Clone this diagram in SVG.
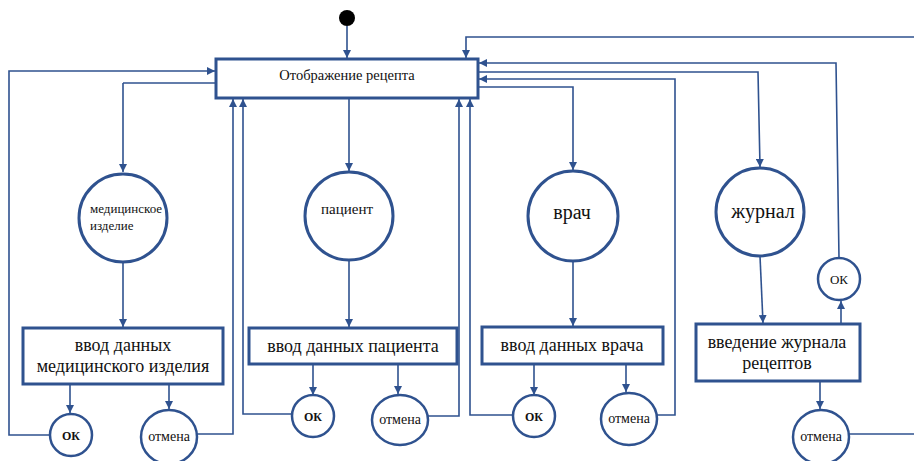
<svg xmlns="http://www.w3.org/2000/svg" width="914" height="461" viewBox="0 0 914 461">
<defs>
<marker id="arr" viewBox="0 0 10 10" refX="10" refY="5" markerWidth="8" markerHeight="8" markerUnits="userSpaceOnUse" orient="auto">
<path d="M0,0 L10,5 L0,10 Z" fill="#2F528F"/>
</marker>
<style>
.c{fill:none;stroke:#2F528F;stroke-width:1.6;marker-end:url(#arr)}
.n{fill:none;stroke:#2F528F;stroke-width:1.6}
.box{fill:#fff;stroke:#2F528F;stroke-width:3}
.big{fill:#fff;stroke:#2F528F;stroke-width:3}
.sm{fill:#fff;stroke:#2F528F;stroke-width:2.5}
.t{fill:#111}
.m{text-anchor:middle}
</style>
</defs>
<g id="connectors">
<path class="c" d="M347,26 V58"/>
<path class="n" d="M216,83 H123"/>
<path class="c" d="M123,83 V172"/>
<path class="c" d="M50,435 H9 V71 H215"/>
<path class="c" d="M123,262 V327"/>
<path class="c" d="M70,384 V413"/>
<path class="c" d="M169,384 V409"/>
<path class="c" d="M197,434 H233 V99"/>
<path class="c" d="M292,414 H243 V99"/>
<path class="c" d="M349,98 V171"/>
<path class="c" d="M349,260 V327"/>
<path class="c" d="M313,364 V395"/>
<path class="c" d="M398,364 V394"/>
<path class="c" d="M428,416 H459 V99"/>
<path class="c" d="M513,415 H470 V99"/>
<path class="c" d="M478,87 H573 V170"/>
<path class="c" d="M573,261 V326"/>
<path class="c" d="M534,364 V395"/>
<path class="c" d="M626,364 V392"/>
<path class="c" d="M657,415 H675 V79 H479"/>
<path class="c" d="M478,72 H758 L760,167"/>
<path class="c" d="M760,256 L763,323"/>
<path class="c" d="M841,324 V301"/>
<path class="c" d="M839,258 L836,63 H479"/>
<path class="c" d="M820,381 V409"/>
<path class="n" d="M849,434 H914"/>
<path class="c" d="M914,37 H466 V58"/>
</g>
<g font-family="'Liberation Serif', 'DejaVu Serif', 'Times New Roman', serif">
<g id="start"><circle cx="347" cy="18" r="8" fill="#000"/></g>
<g id="main"><rect class="box" x="216" y="59" width="262" height="39"/><text class="t m" x="347" y="80" font-size="14.5">Отображение рецепта</text></g>
<g id="med"><circle class="big" cx="123" cy="218" r="44"/><text class="t" x="90" y="213" font-size="13">медицинское</text><text class="t" x="90" y="230" font-size="13">изделие</text></g>
<g id="patient"><circle class="big" cx="349" cy="216" r="44"/><text class="t m" x="347" y="214" font-size="15">пациент</text></g>
<g id="doctor"><circle class="big" cx="573" cy="216" r="45"/><text class="t m" x="572" y="219" font-size="20">врач</text></g>
<g id="journal"><circle class="big" cx="760" cy="212" r="44"/><text class="t m" x="763" y="218" font-size="20">журнал</text></g>
<g id="box1"><rect class="box" x="23" y="328" width="200" height="56"/><text class="t m" x="123" y="351" font-size="18">ввод данных</text><text class="t m" x="123" y="372" font-size="18">медицинского изделия</text></g>
<g id="box2"><rect class="box" x="249" y="328" width="208" height="36"/><text class="t m" x="353" y="352" font-size="18">ввод данных пациента</text></g>
<g id="box3"><rect class="box" x="482" y="327" width="181" height="37"/><text class="t m" x="572" y="351" font-size="18">ввод данных врача</text></g>
<g id="box4"><rect class="box" x="696" y="324" width="164" height="57"/><text class="t m" x="777" y="348" font-size="18">введение журнала</text><text class="t m" x="777" y="369" font-size="18">рецептов</text></g>
<g id="ok1"><circle class="sm" cx="71" cy="435" r="21"/><text class="t m" x="71" y="440" font-size="12" font-weight="bold">ОК</text></g>
<g id="cancel1"><ellipse class="sm" cx="169" cy="437" rx="28" ry="27"/><text class="t m" x="169" y="441" font-size="14">отмена</text></g>
<g id="ok2"><circle class="sm" cx="313" cy="416" r="21"/><text class="t m" x="313" y="421" font-size="12" font-weight="bold">ОК</text></g>
<g id="cancel2"><ellipse class="sm" cx="400" cy="420" rx="28" ry="25"/><text class="t m" x="400" y="424" font-size="14">отмена</text></g>
<g id="ok3"><circle class="sm" cx="534" cy="416" r="21"/><text class="t m" x="534" y="421" font-size="12" font-weight="bold">ОК</text></g>
<g id="cancel3"><ellipse class="sm" cx="629" cy="419" rx="28" ry="26"/><text class="t m" x="629" y="423" font-size="14">отмена</text></g>
<g id="ok4"><circle class="sm" cx="839" cy="279" r="21"/><text class="t m" x="839" y="284" font-size="13">ОК</text></g>
<g id="cancel4"><ellipse class="sm" cx="821" cy="437" rx="28" ry="27"/><text class="t m" x="821" y="441" font-size="14">отмена</text></g>
</g>
</svg>
